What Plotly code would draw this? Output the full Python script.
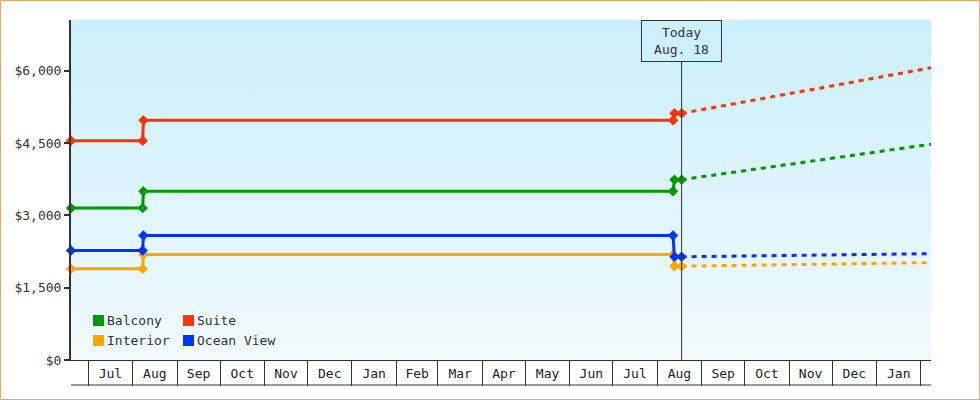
import base64
import plotly.graph_objects as go

# price history (step points) and forecast
step_dates = ["2023-06-19", "2023-08-08", "2023-08-08 12:00", "2024-08-12", "2024-08-13", "2024-08-18"]
forecast_dates = ["2024-08-18", "2025-02-08"]

balcony = [3150, 3150, 3500, 3500, 3740, 3740]
balcony_fc = [3740, 4475]
suite = [4545, 4545, 4970, 4970, 5115, 5115]
suite_fc = [5115, 6060]
interior = [1890, 1890, 2185, 2185, 1945, 1945]
interior_fc = [1945, 2020]
ocean = [2270, 2270, 2580, 2580, 2140, 2140]
ocean_fc = [2140, 2205]

series = [
    ("Balcony", balcony, balcony_fc, "#009900"),
    ("Suite", suite, suite_fc, "#ff3300"),
    ("Interior", interior, interior_fc, "#ffa500"),
    ("Ocean View", ocean, ocean_fc, "#0033ff"),
]

y_ticks = [0, 1500, 3000, 4500, 6000]
y_tick_labels = ["$0", "$1,500", "$3,000", "$4,500", "$6,000"]
today = "2024-08-18"
today_label = "Today<br>Aug. 18"

FONT = "DejaVu Sans Mono"
W, H = 980, 400
L, R, T, B = 71, 49, 20, 40
PW, PH = W - L - R, H - T - B


def px_x(px):
    return (px - L) / PW


def px_y(py):
    return (H - B - py) / PH


fig = go.Figure()

for name, hist, fc, color in series:
    fig.add_trace(go.Scatter(
        x=step_dates, y=hist, mode="lines+markers", name=name,
        line=dict(color=color, width=3),
        marker=dict(symbol="diamond", size=8, color=color),
        cliponaxis=False, showlegend=False, hoverinfo="skip",
    ))
    fig.add_trace(go.Scatter(
        x=forecast_dates, y=fc, mode="lines", name=name + " forecast",
        line=dict(color=color, width=3, dash="5px,5px"),
        showlegend=False, hoverinfo="skip",
    ))

# gradient background for the plot area
svg = ('<svg xmlns="http://www.w3.org/2000/svg" width="10" height="100">'
       '<defs><linearGradient id="g" x1="0" y1="0" x2="0" y2="1">'
       '<stop offset="0" stop-color="#cbeffc"/><stop offset="1" stop-color="#f1faff"/>'
       '</linearGradient></defs><rect width="10" height="100" fill="url(#g)"/></svg>')
bg_uri = "data:image/svg+xml;base64," + base64.b64encode(svg.encode()).decode()

shapes = [
    # outer orange frame
    dict(type="rect", xref="paper", yref="paper",
         x0=px_x(0.5), x1=px_x(W - 0.5), y0=px_y(H - 0.5), y1=px_y(0.5),
         line=dict(color="#eaa964", width=1), layer="below"),
    # bottom line of the month boxes
    dict(type="line", xref="paper", yref="paper",
         x0=0, x1=1, y0=px_y(385), y1=px_y(385),
         line=dict(color="#333333", width=1)),
    # today marker line
    dict(type="line", xref="x", yref="paper",
         x0=today, x1=today, y0=0, y1=px_y(61),
         line=dict(color="#333333", width=1)),
]

annotations = [
    dict(text=today_label, x=today, xref="x", y=1, yref="paper",
         xanchor="center", yanchor="top", showarrow=False,
         font=dict(family=FONT, size=13, color="#333333"),
         bordercolor="#333333", borderwidth=1, borderpad=4, width=71),
]

# hand-placed legend (two columns)
legend_pos = [(93, 315), (183, 315), (93, 335), (183, 335)]
for (sx, sy), (name, _, _, color) in zip(legend_pos, series):
    shapes.append(dict(type="rect", xref="paper", yref="paper",
                       x0=px_x(sx), x1=px_x(sx + 11), y0=px_y(sy + 11), y1=px_y(sy),
                       fillcolor=color, line=dict(width=0)))
    annotations.append(dict(text=name, xref="paper", yref="paper",
                            x=px_x(sx + 12), y=px_y(sy + 5.5),
                            xanchor="left", yanchor="middle", showarrow=False,
                            font=dict(family=FONT, size=13, color="#333333")))

fig.update_layout(
    width=W, height=H,
    margin=dict(l=L, r=R, t=T, b=B),
    paper_bgcolor="white",
    plot_bgcolor="rgba(0,0,0,0)",
    font=dict(family=FONT, size=13, color="#333333"),
    images=[dict(source=bg_uri, xref="paper", yref="paper", x=0, y=1,
                 sizex=1, sizey=1, xanchor="left", yanchor="top",
                 sizing="stretch", layer="below")],
    shapes=shapes,
    annotations=annotations,
    xaxis=dict(
        type="date", range=["2023-06-19", "2025-02-08"],
        tick0="2023-07-01", dtick="M1", tickformat="%b",
        ticklabelmode="period", ticks="outside", ticklen=25,
        tickwidth=1, tickcolor="#333333", ticklabelstandoff=-24,
        showline=True, linecolor="#333333", linewidth=1,
        showgrid=False, zeroline=False,
        tickfont=dict(family=FONT, size=13, color="#222222"),
    ),
    yaxis=dict(
        range=[0, 7050], tickvals=y_ticks, ticktext=y_tick_labels,
        ticks="outside", ticklen=5, tickwidth=2, tickcolor="#333333",
        showline=True, linecolor="#333333", linewidth=2,
        showgrid=False, zeroline=False,
        tickfont=dict(family=FONT, size=13, color="#333333"),
    ),
)

# drop the default page margin so the chart sits flush in the window
fig.write_html("out.html", config={"displayModeBar": False},
               post_script="document.body.style.margin='0';")
